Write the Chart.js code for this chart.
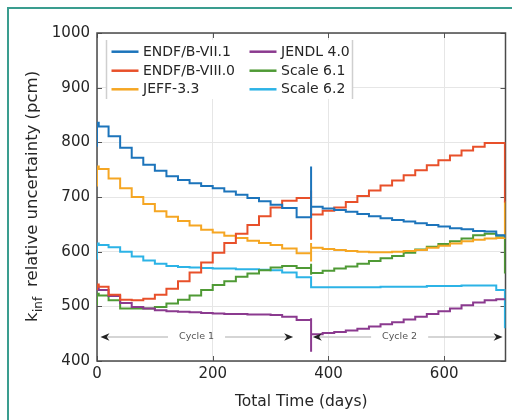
<!DOCTYPE html>
<html lang="en">
<head>
    <meta charset="UTF-8">
    <title>kinf relative uncertainty</title>
    <script src="https://cdn.jsdelivr.net/npm/chart.js"></script>
    <style>
        html, body {
            margin: 0;
            padding: 0;
            background: #fff;
            overflow: hidden;
        }
        #wrap {
            position: relative;
            width: 512px;
            height: 420px;
            overflow: hidden;
        }
        /* teal figure frame, cut off at right and bottom */
        .frame {
            position: absolute;
            left: 7px;
            top: 7px;
            width: 540px;
            height: 440px;
            border-left: 2px solid #3a9d8f;
            border-top: 2px solid #3a9d8f;
        }
        #chart {
            position: absolute;
            left: 0;
            top: 0;
        }
    </style>
</head>
<body>
    <div id="wrap">
        <div class="frame"></div>
        <canvas id="chart" width="512" height="420"></canvas>
    </div>

    <script>
        // time points (days); repeated days are the vertical jumps at cycle start / shutdown / end
        var days = [0, 0, 3, 20, 40, 60, 80, 100, 120, 140, 160, 180, 200, 220, 240, 260, 280, 300, 320, 345,
                    370, 370, 370, 390, 410, 430, 450, 470, 490, 510, 530, 550, 570, 590, 610, 630, 650, 670, 690, 705];

        var endfb71 = [792, 836, 829, 811, 790, 772, 759, 748, 738, 731, 725, 720, 716, 710, 704, 698, 692, 686, 680, 663,
                       756, 680, 682, 679, 676, 673, 669, 665, 661, 658, 655, 652, 649, 646, 643, 641, 638, 637, 630, 626];
        var endfb80 = [530, 540, 536, 521, 512, 511, 514, 521, 532, 546, 562, 580, 598, 616, 633, 649, 665, 681, 693, 698,
                       712, 622, 668, 675, 681, 691, 702, 712, 721, 730, 740, 749, 758, 767, 776, 785, 792, 799, 799, 690];
        var jeff33  = [719, 756, 751, 734, 716, 700, 687, 674, 664, 656, 648, 640, 635, 629, 625, 620, 616, 612, 606, 597,
                       582, 616, 607, 605, 603, 601, 600, 599, 599, 600, 601, 603, 607, 611, 615, 619, 622, 624, 625, 692];
        var jendl40 = [536, 536, 530, 519, 506, 499, 496, 493, 491, 490, 489, 488, 487, 486, 486, 485, 485, 484, 481, 475,
                       478, 417, 449, 451, 453, 456, 459, 463, 467, 471, 476, 481, 486, 491, 496, 502, 507, 511, 513, 513];
        var scale61 = [502, 523, 520, 511, 496, 496, 496, 499, 505, 512, 520, 530, 539, 546, 554, 560, 566, 571, 574, 570,
                       578, 558, 561, 565, 569, 573, 578, 583, 588, 592, 598, 604, 609, 614, 619, 624, 630, 633, 629, 560];
        var scale62 = [585, 615, 612, 608, 600, 591, 584, 578, 574, 572, 571, 570, 569, 569, 568, 568, 567, 566, 562, 553,
                       536, 536, 535, 535, 535, 535, 535, 535, 536, 536, 536, 536, 537, 537, 537, 538, 538, 538, 530, 460];

        var labels = ['ENDF/B-VII.1', 'ENDF/B-VIII.0', 'JEFF-3.3', 'JENDL 4.0', 'Scale 6.1', 'Scale 6.2'];
        var values = [endfb71, endfb80, jeff33, jendl40, scale61, scale62];
        var colors = ['#1c74bb', '#e8502a', '#f5a623', '#8b3a8f', '#4f9a35', '#2cb3e6'];

        var xTicks = [0, 200, 400, 600];
        var yTicks = [400, 500, 600, 700, 800, 900, 1000];

        // cycle annotations: [label, start day, end day, label day]
        var cycles = [
            ['Cycle 1', 6, 339, 172],
            ['Cycle 2', 373, 701, 523]
        ];
        var cycleLevel = 444;

        var FONT = '"DejaVu Sans", sans-serif';

        function arrowHead(ctx, x, y, dir) {
            // notched arrow head, dir = -1 points left, 1 points right
            var len = 9, half = 3.8;
            ctx.beginPath();
            ctx.moveTo(x, y);
            ctx.lineTo(x - dir * len, y - half);
            ctx.lineTo(x - dir * len * 0.7, y);
            ctx.lineTo(x - dir * len, y + half);
            ctx.closePath();
            ctx.fill();
        }

        var extras = {
            id: 'extras',
            beforeDatasetsDraw: function(chart) {
                var ctx = chart.ctx, a = chart.chartArea;
                var sx = chart.scales.x, sy = chart.scales.y;
                ctx.save();
                // inward ticks on all four sides
                ctx.strokeStyle = '#555';
                ctx.lineWidth = 1;
                xTicks.forEach(function(v) {
                    var px = Math.round(sx.getPixelForValue(v)) + 0.5;
                    ctx.beginPath();
                    ctx.moveTo(px, a.bottom); ctx.lineTo(px, a.bottom - 5);
                    ctx.moveTo(px, a.top); ctx.lineTo(px, a.top + 5);
                    ctx.stroke();
                });
                yTicks.forEach(function(v) {
                    var py = Math.round(sy.getPixelForValue(v)) + 0.5;
                    ctx.beginPath();
                    ctx.moveTo(a.left, py); ctx.lineTo(a.left + 5, py);
                    ctx.moveTo(a.right, py); ctx.lineTo(a.right - 5, py);
                    ctx.stroke();
                });
                // axes box
                ctx.strokeStyle = '#4a4a4a';
                ctx.lineWidth = 1.5;
                ctx.strokeRect(a.left, a.top, a.right - a.left, a.bottom - a.top);
                ctx.restore();
            },
            afterDraw: function(chart) {
                var ctx = chart.ctx, a = chart.chartArea;
                var sx = chart.scales.x, sy = chart.scales.y;
                ctx.save();

                // cycle arrows
                var cy = sy.getPixelForValue(cycleLevel);
                ctx.font = '9.5px ' + FONT;
                ctx.textAlign = 'center';
                ctx.textBaseline = 'middle';
                cycles.forEach(function(c) {
                    var x0 = sx.getPixelForValue(c[1]);
                    var x1 = sx.getPixelForValue(c[2]);
                    var xm = sx.getPixelForValue(c[3]);
                    var tw = ctx.measureText(c[0]).width;
                    ctx.strokeStyle = '#c8c8c8';
                    ctx.lineWidth = 1.5;
                    ctx.beginPath();
                    ctx.moveTo(x0 + 4, cy); ctx.lineTo(xm - tw / 2 - 11, cy);
                    ctx.moveTo(xm + tw / 2 + 11, cy); ctx.lineTo(x1 - 4, cy);
                    ctx.stroke();
                    ctx.fillStyle = '#222';
                    arrowHead(ctx, x0, cy, -1);
                    arrowHead(ctx, x1, cy, 1);
                    ctx.fillStyle = '#555';
                    ctx.fillText(c[0], xm, cy);
                });

                // legend, two columns of three
                var boxL = 106.5, boxR = 352.5, boxT = 40, boxB = 99;
                ctx.fillStyle = '#fff';
                ctx.fillRect(boxL, boxT, boxR - boxL, boxB - boxT);
                ctx.strokeStyle = '#cfcfcf';
                ctx.lineWidth = 1.5;
                ctx.beginPath();
                ctx.moveTo(boxL, boxT); ctx.lineTo(boxL, boxB);
                ctx.moveTo(boxR, boxT); ctx.lineTo(boxR, boxB);
                ctx.stroke();
                var rowY = [51.7, 70.7, 89.3];
                var colX = [111.5, 249.5];
                ctx.font = '14px ' + FONT;
                ctx.textAlign = 'left';
                ctx.textBaseline = 'middle';
                labels.forEach(function(lab, i) {
                    var col = Math.floor(i / 3), row = i % 3;
                    var lx = colX[col], ly = rowY[row];
                    ctx.strokeStyle = colors[i];
                    ctx.lineWidth = 2.5;
                    ctx.beginPath();
                    ctx.moveTo(lx, ly); ctx.lineTo(lx + 27, ly);
                    ctx.stroke();
                    ctx.fillStyle = '#262626';
                    ctx.fillText(lab, lx + 31.5, ly + 0.5);
                });

                // x axis title
                ctx.fillStyle = '#262626';
                ctx.font = '15.5px ' + FONT;
                ctx.textAlign = 'center';
                ctx.textBaseline = 'alphabetic';
                ctx.fillText('Total Time (days)', (a.left + a.right) / 2, 406);

                // y axis title with subscript
                ctx.translate(37, 196.5);
                ctx.rotate(-Math.PI / 2);
                ctx.textAlign = 'left';
                var bigFont = '16.5px ' + FONT, subFont = '12px ' + FONT;
                ctx.font = bigFont;
                var kW = ctx.measureText('k').width;
                var rest = '  relative uncertainty (pcm)';
                var restW = ctx.measureText(rest).width;
                ctx.font = subFont;
                var subW = ctx.measureText('inf').width;
                var start = -(kW + subW + restW) / 2;
                ctx.font = bigFont;
                ctx.fillText('k', start, 0);
                ctx.font = subFont;
                ctx.fillText('inf', start + kW + 0.5, 5);
                ctx.font = bigFont;
                ctx.fillText(rest, start + kW + subW, 0);

                ctx.restore();
            }
        };

        var datasets = labels.map(function(lab, i) {
            return {
                label: lab,
                data: days.map(function(d, j) { return { x: d, y: values[i][j] }; }),
                borderColor: colors[i],
                backgroundColor: colors[i],
                borderWidth: 2,
                stepped: 'before',   // hold each value until the next day, then jump
                pointRadius: 0,
                fill: false
            };
        });

        new Chart(document.getElementById('chart'), {
            type: 'line',
            data: { datasets: datasets },
            options: {
                responsive: false,
                animation: false,
                devicePixelRatio: 1,
                layout: { padding: { left: 0, right: 6.5, top: 33, bottom: 0 } },
                plugins: {
                    legend: { display: false },
                    tooltip: { enabled: false }
                },
                scales: {
                    x: {
                        type: 'linear',
                        min: 0,
                        max: 706,
                        afterBuildTicks: function(s) { s.ticks = xTicks.map(function(v) { return { value: v }; }); },
                        afterFit: function(s) { s.height = 59; },
                        grid: { color: '#e6e6e6', drawTicks: false },
                        border: { display: false },
                        ticks: {
                            padding: 4, maxRotation: 0, color: '#262626', font: { family: FONT, size: 15 },
                            callback: function(v) { return String(v); }
                        }
                    },
                    y: {
                        min: 400,
                        max: 1000,
                        afterBuildTicks: function(s) { s.ticks = yTicks.map(function(v) { return { value: v }; }); },
                        afterFit: function(s) { s.width = 97; },
                        grid: { color: '#e6e6e6', drawTicks: false },
                        border: { display: false },
                        ticks: {
                            padding: 7, color: '#262626', font: { family: FONT, size: 15 },
                            callback: function(v) { return String(v); }
                        }
                    }
                }
            },
            plugins: [extras]
        });
    </script>
</body>
</html>
